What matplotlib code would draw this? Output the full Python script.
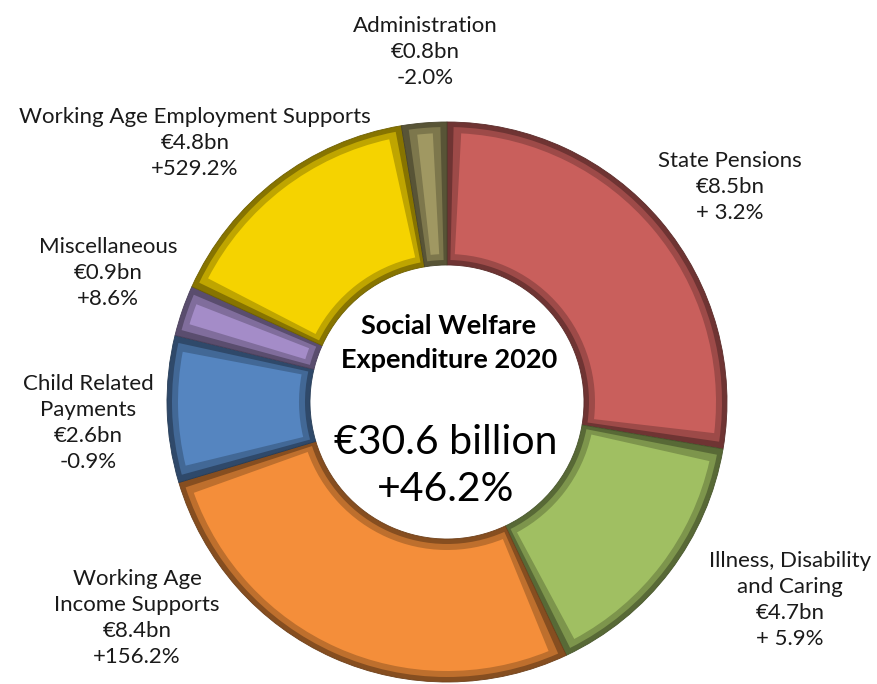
import matplotlib
matplotlib.use("Agg")
import matplotlib.pyplot as plt
from matplotlib.patches import Wedge
from matplotlib.colors import to_rgb
import numpy as np

categories = ["State Pensions", "Illness, Disability\nand Caring", "Working Age\nIncome Supports",
              "Child Related\nPayments", "Miscellaneous", "Working Age Employment Supports", "Administration"]
values = [8.5, 4.7, 8.4, 2.6, 0.9, 4.8, 0.8]
amounts = ["€8.5bn", "€4.7bn", "€8.4bn", "€2.6bn", "€0.9bn", "€4.8bn", "€0.8bn"]
changes = ["+ 3.2%", "+ 5.9%", "+156.2%", "-0.9%", "+8.6%", "+529.2%", "-2.0%"]
center_title = "Social Welfare\nExpenditure 2020"
center_total = "€30.6 billion\n+46.2%"

face_colors = ["#C95F5C", "#A0BF62", "#F48E3A", "#5585C0", "#A48CC8", "#F5D300", "#A09862"]


def shade(c, f):
    rgb = np.array(to_rgb(c))
    return tuple(rgb * f)


W, H = 877, 684
fig = plt.figure(figsize=(W / 100, H / 100), dpi=100)
ax = fig.add_axes([0, 0, 1, 1])
ax.set_xlim(0, W)
ax.set_ylim(0, H)
ax.axis("off")

cx, cy = 447, H - 402
R, r_in = 280, 137
total = sum(values)
cum = np.concatenate([[0], np.cumsum(values)])
inset = 11
for i, v in enumerate(values):
    t2 = 90 - cum[i] / total * 360
    t1 = 90 - cum[i + 1] / total * 360
    ax.add_patch(Wedge((cx, cy), R, t1, t2, width=R - r_in, facecolor=shade(face_colors[i], 0.55),
                       edgecolor=shade(face_colors[i], 0.45), linewidth=0.6))
    d1 = np.degrees(5 / ((R + r_in) / 2))
    ax.add_patch(Wedge((cx, cy), R - 5, t1 + d1, t2 - d1, width=R - r_in - 10,
                       facecolor=shade(face_colors[i], 0.78), edgecolor="none"))
    d = np.degrees(inset / ((R + r_in) / 2))
    ax.add_patch(Wedge((cx, cy), R - inset, t1 + d, t2 - d, width=R - r_in - 2 * inset,
                       facecolor=face_colors[i], edgecolor="none"))

font = "Lato"
tc = "#1a1a1a"
fs = 16
label_pos = [(730, 187), (790, 600), (137, 618), (88, 423), (108, 273), (195, 143), (425, 52)]
for i, (x, y) in enumerate(label_pos):
    txt = categories[i] + "\n" + amounts[i] + "\n" + changes[i]
    ax.text(x, H - y, txt, ha="center", va="center", fontsize=fs, family=font,
            color=tc, linespacing=1.38)

ax.text(449, H - 343, center_title, ha="center", va="center", fontsize=19.5, fontweight="bold",
        family=font, color="black", linespacing=1.55)
ax.text(446, H - 466, center_total, ha="center", va="center", fontsize=29.5,
        family=font, color="black", linespacing=1.32)

fig.savefig("out.png", dpi=100)
